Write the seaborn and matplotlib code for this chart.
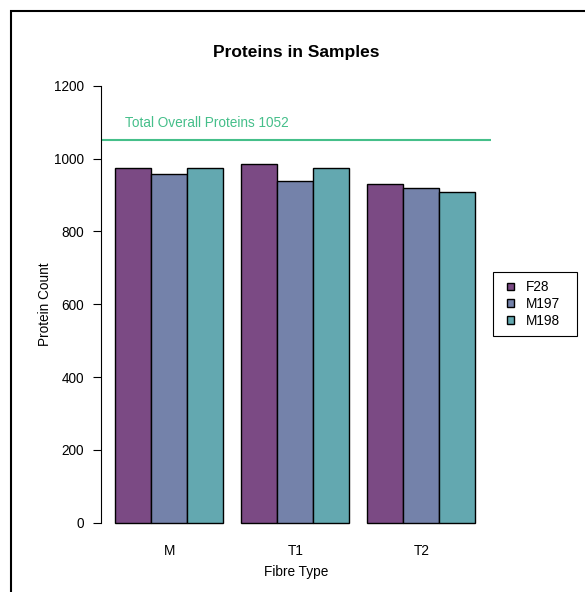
import matplotlib
matplotlib.use("Agg")
import matplotlib.pyplot as plt
from matplotlib.patches import Rectangle
import seaborn as sns
import pandas as pd

# Protein counts per fibre type and sample
fibre_types = ["M", "T1", "T2"]
samples = ["F28", "M197", "M198"]
f28_counts = [975, 986, 930]
m197_counts = [958, 937, 918]
m198_counts = [975, 974, 908]
total_proteins = 1052
y_ticks = [0, 200, 400, 600, 800, 1000, 1200]

bar_colors = ["#7b4a84", "#7482aa", "#63a8b0"]
line_color = "#45bf8a"

rows = []
for s, counts in zip(samples, [f28_counts, m197_counts, m198_counts]):
    for ft, c in zip(fibre_types, counts):
        rows.append({"Fibre Type": ft, "Sample": s, "Protein Count": c})
df = pd.DataFrame(rows)

sns.set_style("white")
plt.rcParams["font.family"] = ["Liberation Sans", "DejaVu Sans"]
plt.rcParams["text.color"] = "black"
plt.rcParams["axes.labelcolor"] = "black"

W, H = 585, 592
fig = plt.figure(figsize=(W / 100, H / 100), dpi=100)

# axes placed in pixel terms
left_px, right_px = 101, 490.7
top_px, bottom_px = 68.2, 540.2
ax = fig.add_axes([left_px / W, (H - bottom_px) / H,
                   (right_px - left_px) / W, (bottom_px - top_px) / H])

sns.barplot(data=df, x="Fibre Type", y="Protein Count", hue="Sample",
            order=fibre_types, hue_order=samples, palette=bar_colors,
            width=6 / 7, saturation=1, edgecolor="black", linewidth=1.0,
            ax=ax, legend=True)

ax.set_xlim(-0.542, 2.551)
ax.set_ylim(-48, 1248)

for sp in ["top", "right", "bottom"]:
    ax.spines[sp].set_visible(False)
ax.spines["left"].set_bounds(0, 1200)
ax.spines["left"].set_linewidth(0.8)
ax.spines["left"].set_color("black")

ax.set_yticks(y_ticks)
ax.set_yticklabels([str(t) for t in y_ticks])
ax.tick_params(axis="y", left=True, length=6, width=0.8, direction="out",
               pad=6, labelsize=9.8, colors="black")
ax.tick_params(axis="x", bottom=False, length=0, pad=2.5, labelsize=9.8,
               colors="black")

ax.set_xlabel("Fibre Type", fontsize=9.8, color="black")
ax.set_ylabel("Protein Count", fontsize=9.8, color="black")
ax.xaxis.set_label_coords((296 - left_px) / (right_px - left_px),
                          -(571.7 - bottom_px) / (bottom_px - top_px))
ax.xaxis.label.set_va("center")
ax.yaxis.set_label_coords(-(101 - 45) / (right_px - left_px), 0.5)
ax.yaxis.label.set_va("center")

# reference line for overall total
ax.axhline(total_proteins, color=line_color, lw=1.5)
ax.text(-0.352, 1098, f"Total Overall Proteins {total_proteins}",
        color=line_color, fontsize=9.8, ha="left", va="center")

fig.text(296 / W, (H - 53) / H, "Proteins in Samples", ha="center",
         va="center", fontsize=12.5, fontweight="bold", color="black")

leg = ax.legend(title=None, loc="center left",
                bbox_to_anchor=(497.5 / W, (H - 304) / H),
                bbox_transform=fig.transFigure, frameon=False,
                fontsize=9.8, handlelength=0.5, handleheight=0.5,
                handletextpad=0.9, borderpad=0.7, labelspacing=0.2,
                borderaxespad=0)
for t in leg.get_texts():
    t.set_color("black")

# legend box
fig.patches.append(Rectangle((493.3 / W, (H - 336) / H), 84 / W, 63.7 / H,
                             transform=fig.transFigure, fill=False,
                             edgecolor="black", lw=0.8, zorder=10))

# outer frame
fig.patches.append(Rectangle((11 / W, -0.2), 1.2, (H - 11) / H + 0.2,
                             transform=fig.transFigure, fill=False,
                             edgecolor="black", lw=1.5, zorder=10))

fig.savefig("out.png", dpi=100)
